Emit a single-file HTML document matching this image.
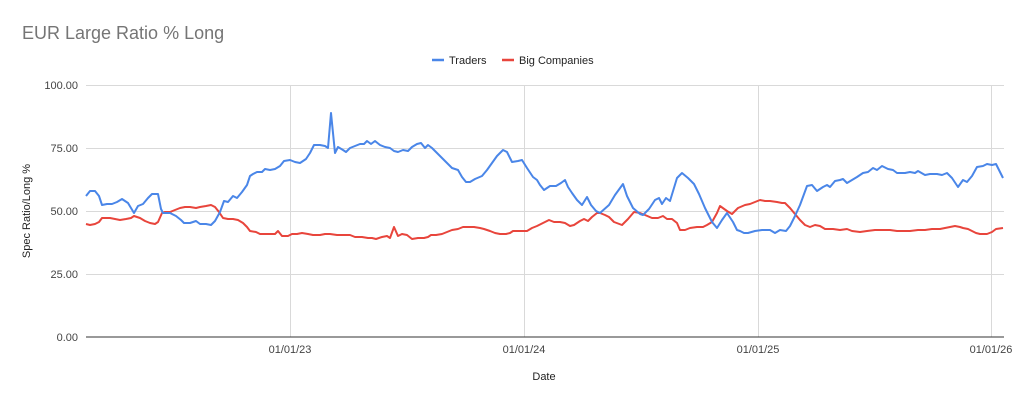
<!DOCTYPE html>
<html><head><style>
body{margin:0;background:#fff;}
svg{display:block;font-family:"Liberation Sans",Arial,sans-serif;}
</style></head><body>
<svg width="1024" height="402" viewBox="0 0 1024 402">
<text x="22" y="39" font-size="18" fill="#757575">EUR Large Ratio % Long</text>
<line x1="432" y1="60" x2="444" y2="60" stroke="#4a86e8" stroke-width="2.5"/>
<text x="449" y="64" font-size="11" fill="#222">Traders</text>
<line x1="502" y1="60" x2="514" y2="60" stroke="#e8453c" stroke-width="2.5"/>
<text x="519" y="64" font-size="11" fill="#222">Big Companies</text>
<g stroke="#d9d9d9" stroke-width="1">
<line x1="86" y1="85.5" x2="1004" y2="85.5"/>
<line x1="86" y1="148.5" x2="1004" y2="148.5"/>
<line x1="86" y1="211.5" x2="1004" y2="211.5"/>
<line x1="86" y1="274.5" x2="1004" y2="274.5"/>
<line x1="290.5" y1="85" x2="290.5" y2="337"/>
<line x1="524.5" y1="85" x2="524.5" y2="337"/>
<line x1="758.5" y1="85" x2="758.5" y2="337"/>
<line x1="991.5" y1="85" x2="991.5" y2="337"/>
</g>
<line x1="86" y1="337" x2="1004" y2="337" stroke="#333" stroke-width="1"/>
<g font-size="11" fill="#444" text-anchor="end">
<text x="78" y="89">100.00</text>
<text x="78" y="152">75.00</text>
<text x="78" y="215">50.00</text>
<text x="78" y="278">25.00</text>
<text x="78" y="341">0.00</text>
</g>
<g font-size="11" fill="#444" text-anchor="middle">
<text x="290" y="353">01/01/23</text>
<text x="524" y="353">01/01/24</text>
<text x="758" y="353">01/01/25</text>
<text x="991" y="353">01/01/26</text>
<text x="544" y="380" fill="#222">Date</text>
</g>
<text transform="translate(30,211) rotate(-90)" font-size="11" fill="#222" text-anchor="middle">Spec Ratio/Long %</text>
<polyline fill="none" stroke="#e8453c" stroke-width="2" stroke-linejoin="round" points="86,224 90,225 95,224 99,222 102,218 110,218 115,219 120,220 126,219 131,218 134,216 140,218 145,221 150,223 155,224 158,222 162,213 165,212 170,212 175,210 180,208 185,207 190,207 196,208 200,207 206,206 211,205 215,207 219,212 223,218 228,219 233,219 238,220 243,223 247,227 250,231 256,232 260,234 265,234 270,234 275,234 278,231 282,236 288,236 292,234 297,234 302,233 308,234 313,235 320,235 325,234 330,234 337,235 343,235 350,235 355,237 362,237 368,238 372,238 376,239 382,237 387,236 390,238 394,227 398,236 402,234 407,235 412,239 418,238 424,238 428,237 431,235 436,235 442,234 447,232 452,230 458,229 463,227 468,227 474,227 480,228 484,229 490,231 495,233 500,234 506,234 510,233 513,231 520,231 527,231 532,228 537,226 543,223 549,220 554,222 560,222 565,223 570,226 574,225 580,221 584,219 588,221 592,217 597,213 600,213 605,215 609,217 614,222 622,225 628,219 634,212 640,213 645,215 652,218 658,218 663,216 667,219 672,219 677,223 680,230 685,230 690,228 697,227 703,227 707,225 712,222 717,213 720,206 727,211 732,214 738,208 745,205 750,204 755,202 760,200 765,201 770,201 777,202 782,203 785,203 790,208 795,214 800,220 805,225 810,227 815,225 820,226 825,229 833,229 840,230 847,229 852,231 860,232 867,231 875,230 882,230 890,230 897,231 910,231 918,230 925,230 932,229 940,229 945,228 950,227 955,226 960,227 963,228 968,229 972,231 976,233 980,234 987,234 992,232 996,229 1003,228"/>
<polyline fill="none" stroke="#4a86e8" stroke-width="2" stroke-linejoin="round" points="86,196 90,191 95,191 99,196 102,205 107,204 112,204 117,202 122,199 128,203 131,208 134,213 138,206 143,204 148,198 152,194 158,194 161,209 163,213 170,213 176,216 181,220 184,223 190,223 196,221 200,224 206,224 211,225 215,221 220,212 224,201 228,202 233,196 237,198 242,192 247,185 250,176 253,174 257,172 262,172 265,169 270,170 275,169 280,166 284,161 290,160 295,162 300,163 306,159 310,153 314,145 320,145 325,146 328,148 331,113 335,153 338,147 343,150 346,152 350,148 355,146 360,144 364,144 367,141 371,144 375,141 380,145 385,147 390,148 394,151 398,152 403,150 408,151 412,147 417,144 421,143 425,148 428,145 432,148 437,153 442,158 447,163 452,168 458,170 462,177 466,182 470,182 475,179 482,176 487,170 492,163 497,156 503,150 507,152 512,162 518,161 522,160 527,168 533,177 537,180 540,185 544,190 550,186 556,186 561,183 565,180 568,187 572,193 577,200 582,205 587,197 591,205 596,211 600,213 609,205 615,195 623,184 627,196 633,208 640,214 643,215 649,209 655,200 659,198 662,204 666,198 670,201 677,178 682,173 688,178 694,184 699,194 705,208 712,222 717,228 722,220 727,213 733,222 737,230 740,231 744,233 748,233 755,231 762,230 770,230 775,233 780,230 786,231 790,226 795,216 800,205 807,186 812,185 817,191 823,187 827,185 830,187 835,181 840,180 843,179 847,183 852,180 857,177 863,173 868,172 873,168 877,170 882,166 888,169 893,170 897,173 905,173 910,172 915,173 918,171 925,175 930,174 937,174 942,175 947,173 952,178 958,187 963,180 967,182 972,176 977,167 983,166 987,164 992,165 996,164 1000,172 1003,178"/>
</svg>
</body></html>
